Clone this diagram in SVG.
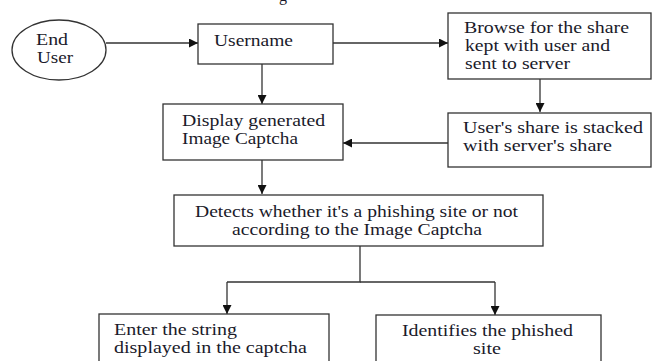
<svg xmlns="http://www.w3.org/2000/svg" width="661" height="361" viewBox="0 0 661 361">
<defs>
<marker id="ah" viewBox="0 0 10 10" refX="10" refY="5" markerWidth="9" markerHeight="9" markerUnits="userSpaceOnUse" orient="auto">
<path d="M0,0 L10,5 L0,10 z" fill="#111"/>
</marker>
<style>
.box{fill:#fff;stroke:#333;stroke-width:1.3}
.t{font-family:"Liberation Serif","Times New Roman",serif;font-size:16px;fill:#1a1a2a}
.ln{fill:none;stroke:#333;stroke-width:1.3}
.ar{fill:none;stroke:#333;stroke-width:1.3;marker-end:url(#ah)}
</style>
</defs>
<rect width="661" height="361" fill="#fff"/>
<text class="t" x="279" y="1">g</text>
<g id="connectors">
<line class="ar" x1="106" y1="43" x2="198" y2="43"/>
<line class="ar" x1="333" y1="43" x2="448" y2="43"/>
<line class="ar" x1="262" y1="64" x2="262" y2="104"/>
<line class="ar" x1="540" y1="79" x2="540" y2="112"/>
<line class="ar" x1="448" y1="143" x2="343" y2="143"/>
<line class="ar" x1="262" y1="160" x2="262" y2="194"/>
<polyline class="ln" points="360,246 360,282 227,282"/>
<line class="ln" x1="360" y1="282" x2="495" y2="282"/>
<line class="ar" x1="227" y1="282" x2="227" y2="314"/>
<line class="ar" x1="495" y1="282" x2="495" y2="315"/>
</g>
<g id="end-user">
<ellipse class="box" cx="59" cy="50" rx="47" ry="30"/>
<text class="t" x="36" y="45" textLength="32" lengthAdjust="spacingAndGlyphs">End</text>
<text class="t" x="37" y="63" textLength="36" lengthAdjust="spacingAndGlyphs">User</text>
</g>
<g id="username">
<rect class="box" x="198" y="24" width="135" height="40"/>
<text class="t" x="214" y="46" textLength="79" lengthAdjust="spacingAndGlyphs">Username</text>
</g>
<g id="browse">
<rect class="box" x="448" y="13" width="203" height="66"/>
<text class="t" x="464" y="33" textLength="165" lengthAdjust="spacingAndGlyphs">Browse for the share</text>
<text class="t" x="465" y="51" textLength="145" lengthAdjust="spacingAndGlyphs">kept with user and</text>
<text class="t" x="465" y="69" textLength="105" lengthAdjust="spacingAndGlyphs">sent to server</text>
</g>
<g id="display">
<rect class="box" x="163" y="104" width="180" height="56"/>
<text class="t" x="182" y="126" textLength="143" lengthAdjust="spacingAndGlyphs">Display generated</text>
<text class="t" x="182" y="144" textLength="116" lengthAdjust="spacingAndGlyphs">Image Captcha</text>
</g>
<g id="stacked">
<rect class="box" x="448" y="113" width="203" height="54"/>
<text class="t" x="463" y="133" textLength="180" lengthAdjust="spacingAndGlyphs">User's share is stacked</text>
<text class="t" x="463" y="151" textLength="149" lengthAdjust="spacingAndGlyphs">with server's share</text>
</g>
<g id="detects">
<rect class="box" x="174" y="195" width="369" height="51"/>
<text class="t" x="195" y="217" textLength="323" lengthAdjust="spacingAndGlyphs">Detects whether it's a phishing site or not</text>
<text class="t" x="232" y="235" textLength="250" lengthAdjust="spacingAndGlyphs">according to the Image Captcha</text>
</g>
<g id="enter">
<rect class="box" x="99" y="314" width="230" height="60"/>
<text class="t" x="114" y="335" textLength="123" lengthAdjust="spacingAndGlyphs">Enter the string</text>
<text class="t" x="114" y="353" textLength="193" lengthAdjust="spacingAndGlyphs">displayed in the captcha</text>
</g>
<g id="identifies">
<rect class="box" x="376" y="315" width="225" height="60"/>
<text class="t" x="402" y="336" textLength="171" lengthAdjust="spacingAndGlyphs">Identifies the phished</text>
<text class="t" x="473" y="354" textLength="28" lengthAdjust="spacingAndGlyphs">site</text>
</g>
</svg>
